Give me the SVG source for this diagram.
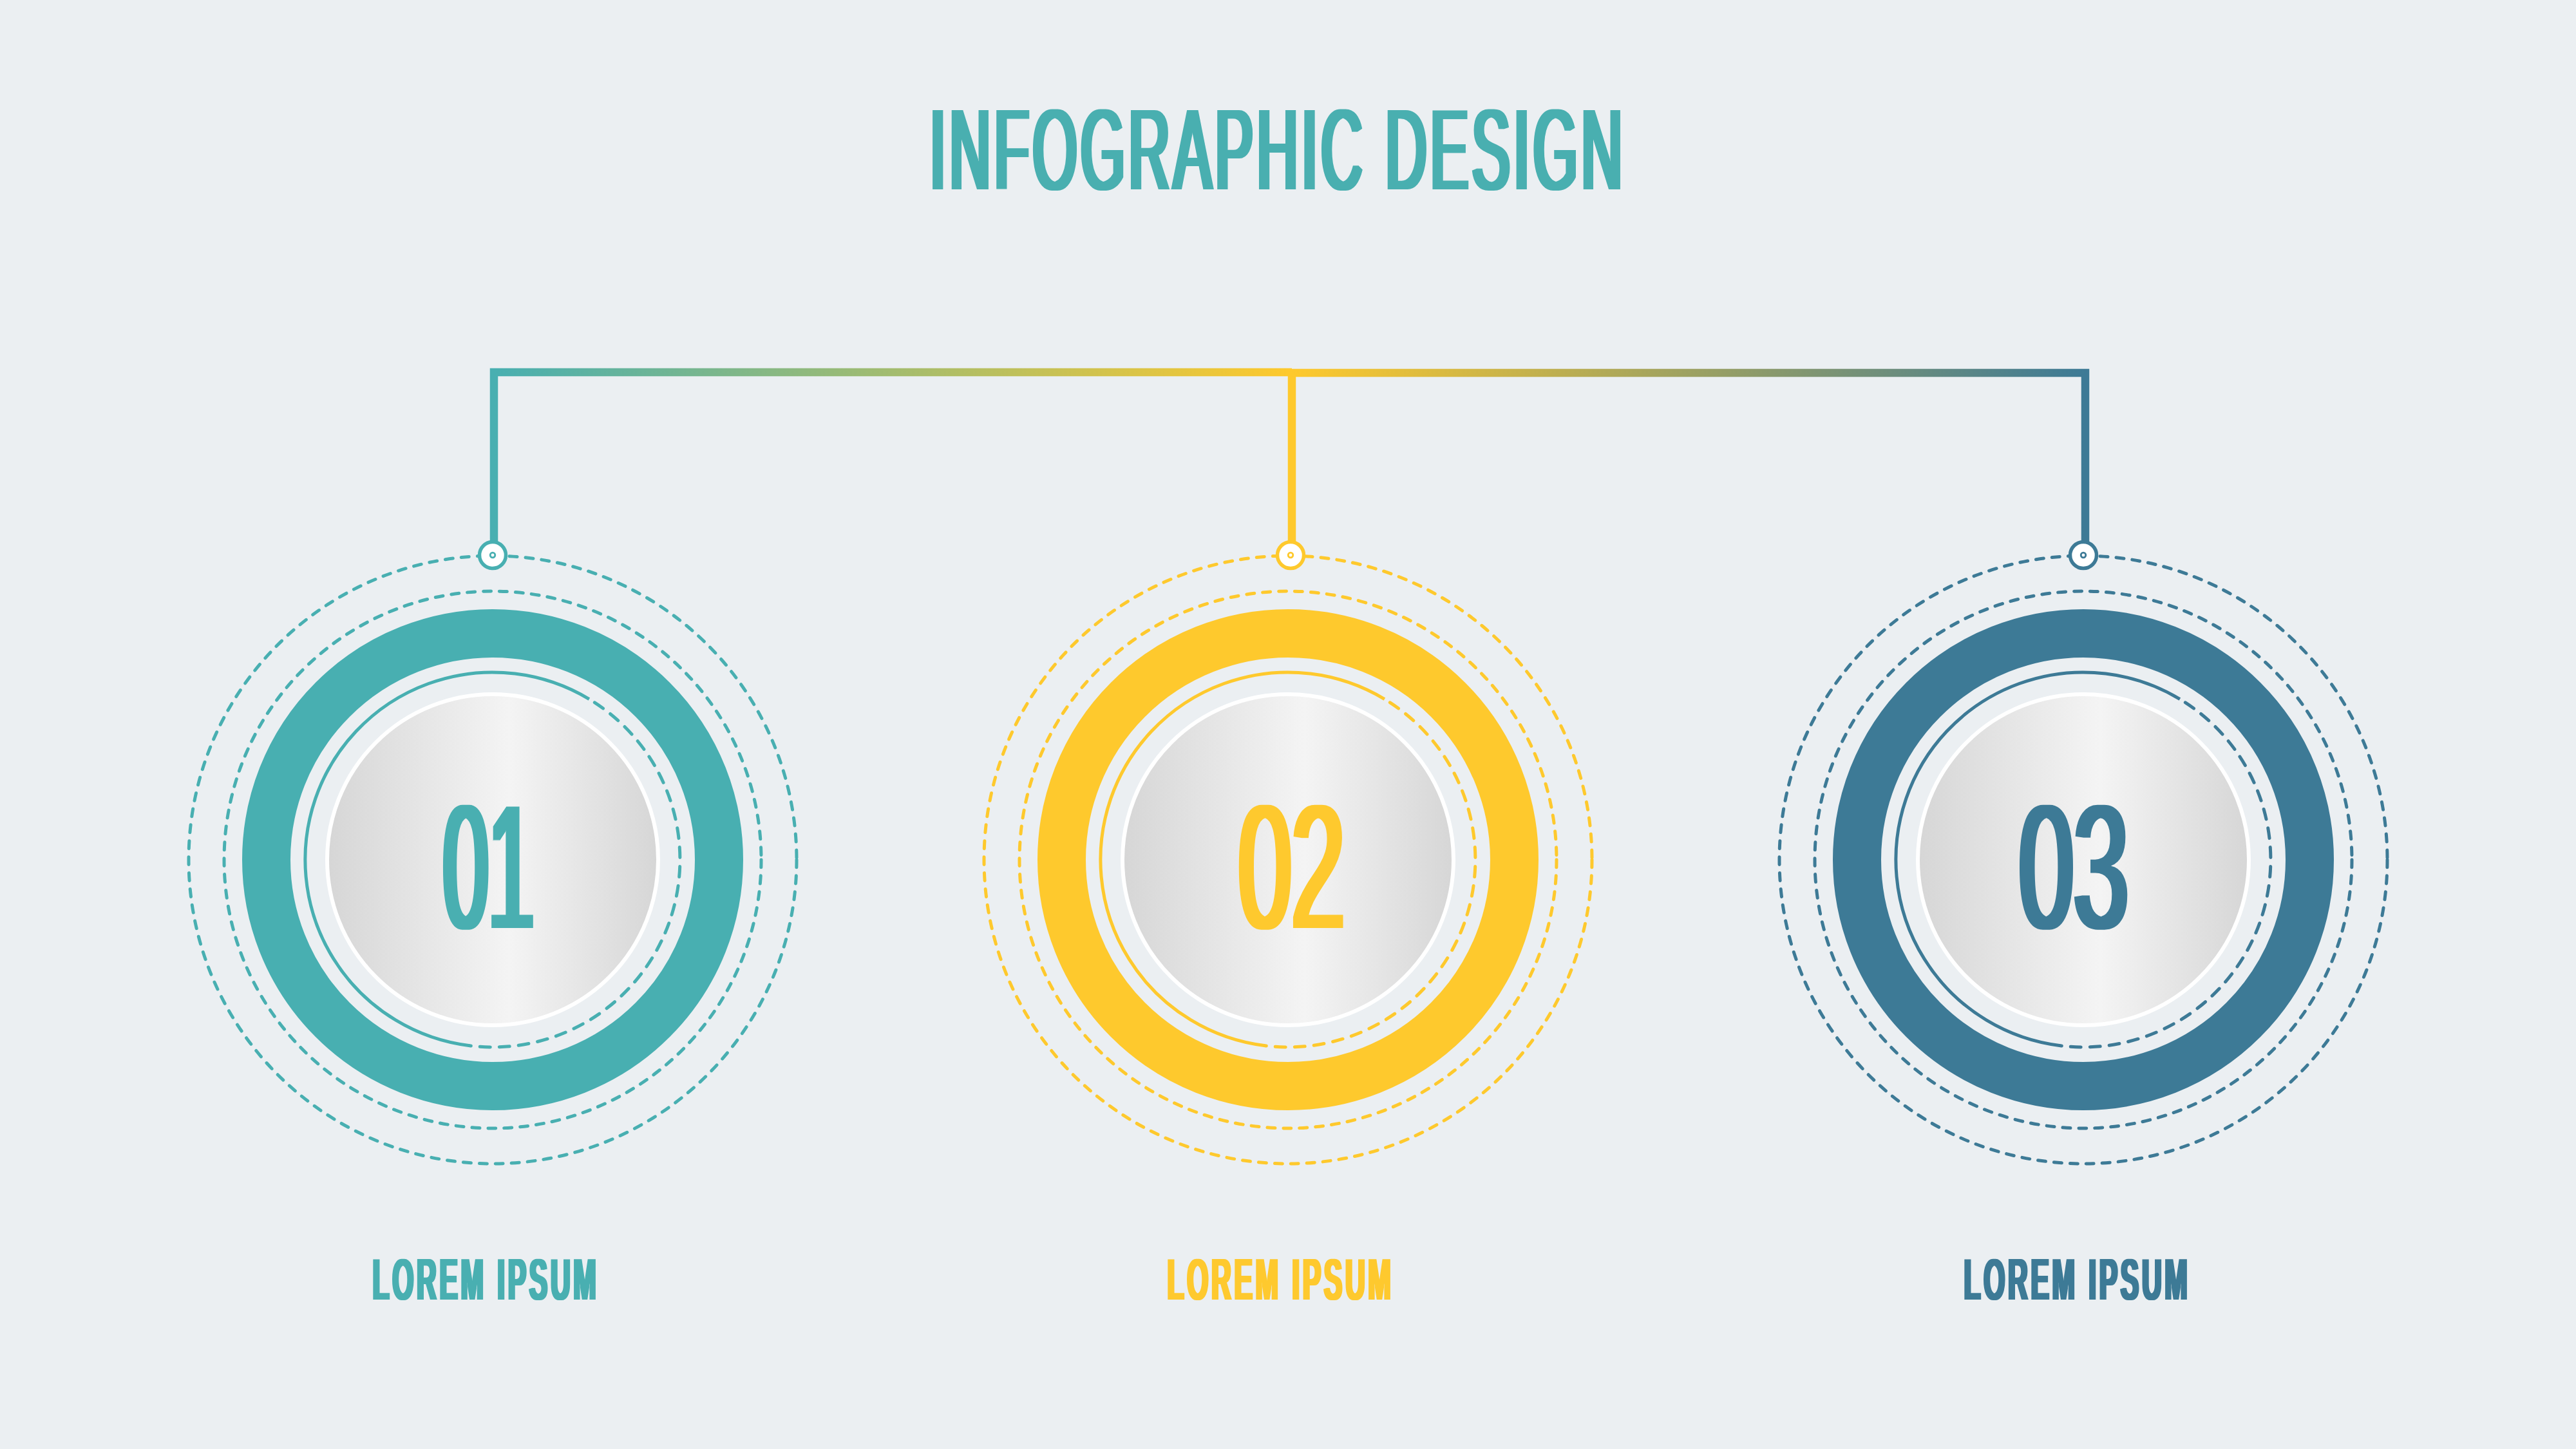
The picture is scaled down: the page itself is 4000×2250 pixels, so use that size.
<svg xmlns="http://www.w3.org/2000/svg" xmlns:xlink="http://www.w3.org/1999/xlink" width="4000" height="2250" viewBox="0 0 4000 2250">
  <style>
    .bg { fill: #EBEFF2; }
    .dash-o { fill: none; stroke: currentColor; stroke-width: 5; stroke-dasharray: 12 13; stroke-linecap: round; }
    .ring { fill: none; stroke: currentColor; stroke-width: 75; }
    .thin { fill: none; stroke: currentColor; stroke-width: 5; }
    .thin-d { fill: none; stroke: currentColor; stroke-width: 5; stroke-dasharray: 16 14; stroke-dashoffset: 20; stroke-linecap: round; }
    .disc { fill: url(#silver); stroke: #FFFFFF; stroke-width: 6; }
    .pin { fill: #FFFFFF; stroke: currentColor; stroke-width: 5.5; }
    .pin-dot { fill: #FFFFFF; stroke: currentColor; stroke-width: 2.8; }
    .cond { font-family: "Liberation Sans", Arial, sans-serif; fill: currentColor; }
    .title { font-size: 179px; font-weight: 400; letter-spacing: 12px; filter: url(#widen4); }
    .num { font-size: 274px; font-weight: 400; filter: url(#widen5); }
    .label { font-size: 91px; font-weight: 700; letter-spacing: 10px; filter: url(#widen1); }
    .link { fill: none; stroke-width: 12.5; stroke-linejoin: miter; stroke-linecap: butt; }
  </style>
  <defs>
    <!-- thicken vertical stems of horizontally squeezed lettering -->
    <filter id="widen1" x="-5%" y="-5%" width="110%" height="110%">
      <feMorphology operator="dilate" radius="1.5 0"/>
    </filter>
    <filter id="widen4" x="-5%" y="-5%" width="110%" height="110%">
      <feMorphology operator="dilate" radius="4 0"/>
    </filter>
    <filter id="widen5" x="-10%" y="-5%" width="120%" height="110%">
      <feMorphology operator="dilate" radius="5 0"/>
    </filter>
    <linearGradient id="silver" x1="0" y1="0" x2="1" y2="0">
      <stop offset="0" stop-color="#D6D6D6"/>
      <stop offset="0.55" stop-color="#F4F4F4"/>
      <stop offset="1" stop-color="#D6D6D6"/>
    </linearGradient>
    <linearGradient id="tealToGold" gradientUnits="userSpaceOnUse" x1="767" y1="0" x2="2006" y2="0">
      <stop offset="0" stop-color="#48AFB1"/>
      <stop offset="1" stop-color="#FEC92D"/>
    </linearGradient>
    <linearGradient id="goldToBlue" gradientUnits="userSpaceOnUse" x1="2006" y1="0" x2="3238" y2="0">
      <stop offset="0" stop-color="#FEC92D"/>
      <stop offset="1" stop-color="#3D7A96"/>
    </linearGradient>
    <!-- concentric dial drawn around (0,0), coloured by currentColor -->
    <g id="dial">
      <circle class="dash-o" r="472"/>
      <circle class="dash-o" r="417"/>
      <circle class="ring" r="351.5"/>
      <path class="thin" d="M -35.5 288.8 A 291 291 0 1 1 149.9 -249.4"/>
      <path class="thin-d" d="M 149.9 -249.4 A 291 291 0 0 1 -35.5 288.8"/>
      <circle class="disc" r="257"/>
    </g>
  </defs>

  <rect class="bg" x="0" y="0" width="4000" height="2250"/>

  <g id="title" style="color:#48AFB0">
    <text class="cond title" x="1444" y="294" textLength="1081" lengthAdjust="spacingAndGlyphs">INFOGRAPHIC DESIGN</text>
  </g>

  <!-- bracket linking the three steps -->
  <g id="connectors">
    <path class="link" stroke="url(#tealToGold)" d="M 767 845 V 578 H 2006"/>
    <path class="link" stroke="#FEC92D" d="M 2006 584 V 845"/>
    <path class="link" stroke="url(#goldToBlue)" d="M 2000 579 H 3238 V 845"/>
  </g>

  <g id="step-01" style="color:#48AFB1">
    <use xlink:href="#dial" x="765" y="1335"/>
    <circle class="pin" cx="765" cy="862" r="20.5"/>
    <circle class="pin-dot" cx="765" cy="862" r="3.8"/>
    <text class="cond num" x="688" y="1441" textLength="141" lengthAdjust="spacingAndGlyphs">01</text>
    <text class="cond label" x="578.5" y="2018" textLength="352" lengthAdjust="spacingAndGlyphs">LOREM IPSUM</text>
  </g>

  <g id="step-02" style="color:#FEC92D">
    <use xlink:href="#dial" x="2000" y="1335"/>
    <circle class="pin" cx="2004" cy="862" r="20.5"/>
    <circle class="pin-dot" cx="2004" cy="862" r="3.8"/>
    <text class="cond num" x="1923" y="1441" textLength="165" lengthAdjust="spacingAndGlyphs">02</text>
    <text class="cond label" x="1812.5" y="2018" textLength="352" lengthAdjust="spacingAndGlyphs">LOREM IPSUM</text>
  </g>

  <g id="step-03" style="color:#3D7A96">
    <use xlink:href="#dial" x="3235" y="1335"/>
    <circle class="pin" cx="3235" cy="862" r="20.5"/>
    <circle class="pin-dot" cx="3235" cy="862" r="3.8"/>
    <text class="cond num" x="3135" y="1441" textLength="170" lengthAdjust="spacingAndGlyphs">03</text>
    <text class="cond label" x="3049.5" y="2018" textLength="352" lengthAdjust="spacingAndGlyphs">LOREM IPSUM</text>
  </g>
</svg>
